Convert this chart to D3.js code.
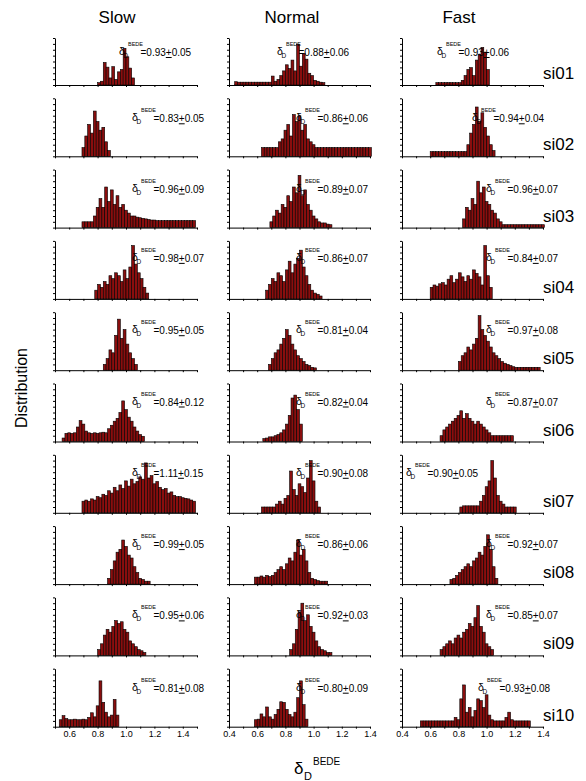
<!DOCTYPE html>
<html><head><meta charset="utf-8">
<script src="https://cdn.jsdelivr.net/npm/d3@7"></script>
<style>body{margin:0;background:#fff} text{font-family:"Liberation Sans",Arial,sans-serif;fill:#000}</style>
</head><body><svg id="c" width="586" height="781"></svg>
<script>
// ---------- data ----------
const speeds = ["Slow", "Normal", "Fast"];
const runs = ["si01","si02","si03","si04","si05","si06","si07","si08","si09","si10"];
const xDomains = [[0.5, 1.5], [0.4, 1.4], [0.4, 1.4]];
const tickLabels = ["0.4","0.6","0.8","1.0","1.2","1.4"];
const binWidth = 0.02;

const slowMean = ["0.93","0.83","0.96","0.98","0.95","0.84","1.11","0.99","0.95","0.81"];
const slowSd   = ["0.05","0.05","0.09","0.07","0.05","0.12","0.15","0.05","0.06","0.08"];
const normalMean = ["0.88","0.86","0.89","0.86","0.81","0.82","0.90","0.86","0.92","0.80"];
const normalSd   = ["0.06","0.06","0.07","0.07","0.04","0.04","0.08","0.06","0.03","0.09"];
const fastMean = ["0.93","0.94","0.96","0.84","0.97","0.87","0.90","0.92","0.85","0.93"];
const fastSd   = ["0.06","0.04","0.07","0.07","0.08","0.07","0.05","0.07","0.07","0.08"];

// first bin of each histogram
const slowStart   = [0.80,0.69,0.69,0.78,0.84,0.55,0.69,0.87,0.80,0.53];
const normalStart = [0.44,0.63,0.69,0.66,0.68,0.64,0.63,0.58,0.83,0.58];
const fastStart   = [0.64,0.60,0.83,0.60,0.80,0.67,0.81,0.74,0.67,0.53];

// bin heights (percent of panel height)
const slow01 = [5,8,48,38,15,39,12,28,33,78,60,36,15];
const slow02 = [15,35,55,40,78,60,45,50,25,10];
const slow03 = [10,10,10,10,20,35,50,35,70,45,65,40,55,35,40,30,25,20,20,18,17,16,15,14,13,13,12,12,12,12,12,12,12,12,12,12,12,12,12,12];
const slow04 = [15,25,20,30,25,40,35,45,40,30,50,35,55,92,60,45,35,20,10];
const slow05 = [10,20,35,30,60,88,55,70,45,30,20,10];
const slow06 = [6,14,15,14,15,25,36,30,18,15,14,15,14,15,16,15,22,28,35,40,50,70,55,42,35,25,18,12,9];
const slow07 = [20,22,20,24,22,28,26,32,30,38,34,44,38,48,42,55,46,58,50,54,62,58,86,60,64,50,54,44,40,42,34,36,30,28,28,26,25,24,22,20];
const slow08 = [10,25,40,55,60,76,65,50,45,30,20,10,8,5,5];
const slow09 = [10,20,35,45,40,50,60,55,58,45,40,25,20,15,10,8,5];
const slow10 = [12,19,14,12,12,13,12,12,13,12,16,24,17,36,79,42,25,17,20,47,20];

const normal01 = [7,6,6,6,6,6,6,6,6,6,6,6,6,19,8,12,20,30,43,35,53,30,87,40,67,55,25,20,10,8,6,5];
const normal02 = [15,15,15,15,15,15,25,30,45,55,35,72,60,70,45,55,30,25,20,15,15,15,15,15,15,15,15,15,15,15,15,15,15,15,15,15,15,15,15];
const normal03 = [10,20,30,25,40,35,55,45,70,60,90,55,65,40,30,20,15,10,8,8,6,5];
const normal04 = [15,25,35,30,45,40,30,50,65,45,60,70,84,55,40,25,15,10,8,5];
const normal05 = [10,20,30,35,45,55,70,60,45,35,25,20,15,10,8,5,4];
const normal06 = [5,6,8,8,10,12,15,20,30,45,75,80,55,30];
const normal07 = [10,10,10,10,10,15,20,15,25,30,72,40,30,50,45,35,60,90,55,20,10];
const normal08 = [12,12,14,12,15,13,15,20,25,30,25,35,45,40,55,76,50,60,40,20,10,8,6,5,5,5];
const normal09 = [10,20,45,75,90,60,70,50,40,25,15,10,8,5,5];
const normal10 = [12,13,22,17,34,17,13,21,30,43,42,30,21,17,25,50,79,38,13];

const fast01 = [5,5,5,5,5,5,5,5,5,10,20,33,37,20,53,65,80,70,33];
const fast02 = [8,8,8,8,8,8,8,8,8,8,8,8,8,20,40,55,85,60,75,50,35,20,10];
const fast03 = [15,35,30,50,40,80,60,70,45,40,30,25,15,10,5,5,5,5,5,5,5,5,5,5,5,5,5,5,5];
const fast04 = [20,24,22,26,28,24,34,40,28,34,45,38,30,40,34,50,44,38,24,92,40,20];
const fast05 = [15,25,30,40,35,45,55,94,70,60,50,40,30,25,20,15,12,10,8,6,5,5,5,5,5,5,5,5,5];
const fast06 = [10,20,25,30,35,40,45,53,40,48,40,35,30,35,30,25,20,15,10,10,10,10,10,10,10,10];
const fast07 = [10,12,12,12,12,12,12,20,30,45,55,90,60,30,20,15,10,10,10,10];
const fast08 = [8,10,15,20,25,30,35,30,40,45,55,50,65,85,60,30,10];
const fast09 = [10,15,20,25,20,30,35,30,40,45,55,50,65,86,50,40,20,15,10];
const fast10 = [10,10,10,10,10,10,10,10,10,10,10,10,16,12,48,72,25,33,17,28,48,45,33,55,20,12,10,10,10,10,16,25,12,10,10,10,10,10,10];

// ---------- layout ----------
const colLeft = [55, 229, 402];
const colWidth = [142, 141, 141];
const titleX = [117, 292, 459];
const rowBase0 = 85, rowStep = 71.3;
const axisH = [47,58,58,58,58,58,58,58,58,58];
const yTickStep = [12.5,10,10,10,10,10,10,10,10,10];
const annDX = [[64,77,77,77,77,77,77,77,77,77],[48,67,67,67,67,67,67,67,67,67],[35,70,84,84,84,84,4,84,84,76]];
const annDY = [-29,-34,-35,-37,-36,-36,-36,-36,-36,-35];

const svg = d3.select("#c");
const series = [
  [slow01,slow02,slow03,slow04,slow05,slow06,slow07,slow08,slow09,slow10],
  [normal01,normal02,normal03,normal04,normal05,normal06,normal07,normal08,normal09,normal10],
  [fast01,fast02,fast03,fast04,fast05,fast06,fast07,fast08,fast09,fast10]
];
const starts = [slowStart, normalStart, fastStart];
const means = [slowMean, normalMean, fastMean];
const sds = [slowSd, normalSd, fastSd];

speeds.forEach((s, c) => {
  svg.append("text").attr("x", titleX[c]).attr("y", 23)
    .attr("text-anchor","middle").attr("font-size", 17).text(s);
});

for (let c = 0; c < 3; c++) {
  for (let r = 0; r < 10; r++) {
    const base = rowBase0 + r*rowStep;
    const x = d3.scaleLinear().domain(xDomains[c]).range([colLeft[c], colLeft[c] + colWidth[c]]);
    const y = d3.scaleLinear().domain([0, 100]).range([base, base - axisH[r]]);
    const g = svg.append("g");
    const bins = series[c][r].map((h, i) => ({x0: starts[c][r] + i*binWidth, h}));
    g.selectAll("rect").data(bins).join("rect")
      .attr("x", d => x(d.x0))
      .attr("width", d => x(d.x0 + binWidth) - x(d.x0))
      .attr("y", d => y(d.h))
      .attr("height", d => y(0) - y(d.h))
      .attr("fill", "#8a0e0e").attr("stroke", "#000").attr("stroke-width", 0.6);

    const ticks = d3.range(Math.round(xDomains[c][0]*10), Math.round(xDomains[c][1]*10)+1).map(v => v/10);
    const xa = d3.axisBottom(x).tickValues(ticks).tickSize(2).tickSizeOuter(0)
      .tickFormat(d => (r === 9 && tickLabels.includes(d.toFixed(1))) ? d.toFixed(1) : "");
    const gx = g.append("g").attr("transform", `translate(0,${base})`).call(xa);
    gx.select(".domain").attr("stroke","#000").attr("stroke-width",1);
    gx.selectAll("text").attr("font-size", 9).attr("dy", "0.55em").attr("font-family","Liberation Sans, Arial, sans-serif");

    const ya = d3.axisLeft(y).tickValues(d3.range(0, 100.01, yTickStep[r])).tickSize(2).tickSizeOuter(0).tickFormat("");
    const gy = g.append("g").attr("transform", `translate(${colLeft[c]},0)`).call(ya);
    gy.select(".domain").attr("stroke","#000").attr("stroke-width",1);

    // annotation
    const ax = colLeft[c] + annDX[c][r], ay = base + annDY[r];
    g.append("text").attr("x", ax).attr("y", ay - 1).attr("font-size", 10.5).text("δ");
    g.append("text").attr("x", ax + 4.5).attr("y", ay + 2).attr("font-size", 6.5).text("D");
    g.append("text").attr("x", ax + 9).attr("y", ay - 10).attr("font-size", 5.5).text("BEDE");
    const t = g.append("text").attr("x", ax + 21.5).attr("y", ay).attr("font-size", 10);
    t.append("tspan").text("=" + means[c][r]);
    t.append("tspan").attr("text-decoration","underline").text("+");
    t.append("tspan").text(sds[c][r]);

    if (c === 2) {
      svg.append("text").attr("x", 543).attr("y", base - 6).attr("font-size", 17).text(runs[r]);
    }
  }
}

svg.append("text").attr("transform", "translate(27,388) rotate(-90)")
  .attr("text-anchor","middle").attr("font-size", 16).text("Distribution");

const xl = svg.append("g");
xl.append("text").attr("x", 294).attr("y", 774).attr("font-size", 17).text("δ");
xl.append("text").attr("x", 304).attr("y", 780).attr("font-size", 11).text("D");
xl.append("text").attr("x", 313).attr("y", 765).attr("font-size", 10).text("BEDE");
</script></body></html>
